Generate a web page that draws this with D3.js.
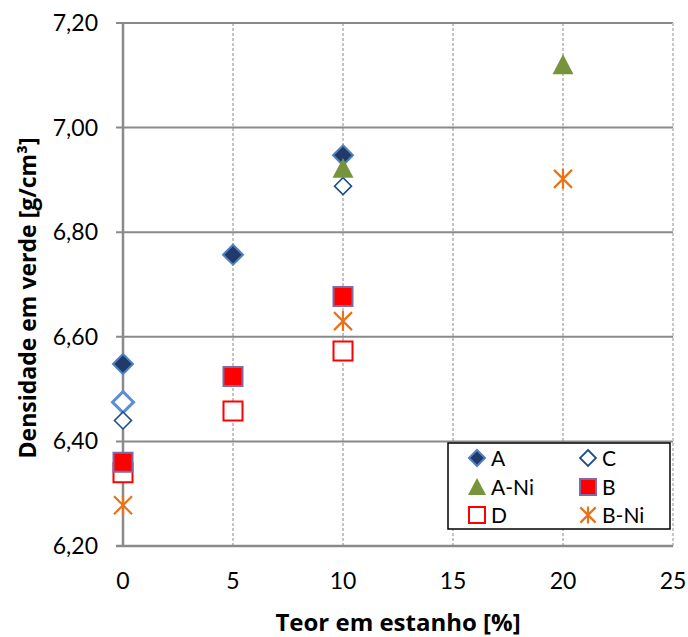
<!DOCTYPE html>
<html>
<head>
<meta charset="utf-8">
<script src="https://cdn.jsdelivr.net/npm/d3@7"></script>
<style>
  html, body { margin: 0; padding: 0; background: #fff; }
  svg { display: block; font-family: Lato, "Open Sans", sans-serif; }
</style>
</head>
<body>
<svg id="chart" width="688" height="637"></svg>
<script>
// Green density vs tin content, per alloy family
const xTicks = [0, 5, 10, 15, 20, 25];
const yTicks = [6.2, 6.4, 6.6, 6.8, 7.0, 7.2];

const seriesA     = [[0, 6.548], [5, 6.757], [10, 6.947]];
const seriesA0    = [[0, 6.475]];
const seriesC     = [[0, 6.440], [10, 6.888]];
const seriesANi   = [[10, 6.922], [20, 7.120]];
const seriesB     = [[0, 6.360], [5, 6.524], [10, 6.677]];
const seriesD     = [[0, 6.340], [5, 6.458], [10, 6.573]];
const seriesBNi   = [[0, 6.278], [10, 6.630], [20, 6.902]];

const legendNames = ["A", "C", "A-Ni", "B", "D", "B-Ni"];

const svg = d3.select("#chart");
const M = { left: 123, right: 673, top: 23, bottom: 546 };

const x = d3.scaleLinear().domain([0, 25]).range([M.left, M.right]);
const y = d3.scaleLinear().domain([6.2, 7.2]).range([M.bottom, M.top]);

const loc = d3.formatLocale({ decimal: ",", thousands: ".", grouping: [3], currency: ["", ""] });
const fmtY = loc.format(".2f");

// Marker shapes
const shapes = {
  diamond: h => `M0,${-h}L${h},0L0,${h}L${-h},0Z`,
  square: h => `M${-h},${-h}H${h}V${h}H${-h}Z`,
  triangle: h => `M0,${-h}L${h},${h * 0.9}L${-h},${h * 0.9}Z`,
  star: h => `M${-h * 0.9},${-h * 0.9}L${h * 0.9},${h * 0.9}M${-h * 0.9},${h * 0.9}L${h * 0.9},${-h * 0.9}M0,${-h}L0,${h}`
};

const styles = {
  A:    { shape: "diamond", size: 10,   fill: "#1f3a6b", stroke: "#4f81bd", sw: 2 },
  A0:   { shape: "diamond", size: 10.5, fill: "#ffffff", stroke: "#5b8fd3", sw: 3 },
  C:    { shape: "diamond", size: 8.5,  fill: "#ffffff", stroke: "#1f4e8c", sw: 1.6 },
  ANi:  { shape: "triangle", size: 10.5, fill: "#77933c", stroke: "none", sw: 0 },
  B:    { shape: "square", size: 9.5,   fill: "#ff0000", stroke: "#7f6aa6", sw: 2 },
  D:    { shape: "square", size: 9.5,   fill: "#ffffff", stroke: "#ff0000", sw: 2 },
  BNi:  { shape: "star", size: 10,      fill: "none", stroke: "#e8731a", sw: 2.2 }
};

// Horizontal gridlines (solid) + left tick stubs
svg.append("g")
  .selectAll("line")
  .data(yTicks)
  .join("line")
  .attr("x1", M.left - 7).attr("x2", M.right)
  .attr("y1", d => y(d)).attr("y2", d => y(d))
  .attr("stroke", "#8a8a8a").attr("stroke-width", 2);

// Vertical gridlines (dashed)
svg.append("g")
  .selectAll("line")
  .data(xTicks.filter(d => d > 0))
  .join("line")
  .attr("x1", d => x(d)).attr("x2", d => x(d))
  .attr("y1", M.top).attr("y2", M.bottom)
  .attr("stroke", d => d === 25 ? "#c8c8c8" : "#8a8a8a")
  .attr("stroke-width", d => d === 25 ? 2 : 1)
  .attr("stroke-dasharray", "3,2");

// Axes lines
svg.append("line")
  .attr("x1", x(0)).attr("x2", x(0))
  .attr("y1", M.top).attr("y2", M.bottom)
  .attr("stroke", "#8a8a8a").attr("stroke-width", 2.5);
svg.append("line")
  .attr("x1", M.left - 7).attr("x2", M.right)
  .attr("y1", y(6.2)).attr("y2", y(6.2))
  .attr("stroke", "#8a8a8a").attr("stroke-width", 2.5);

// Tick labels
svg.append("g")
  .selectAll("text")
  .data(yTicks)
  .join("text")
  .attr("x", 98).attr("y", d => y(d))
  .attr("dy", "0.35em")
  .attr("text-anchor", "end")
  .attr("font-size", 23)
  .attr("fill", "#000")
  .text(d => fmtY(d));

svg.append("g")
  .selectAll("text")
  .data(xTicks)
  .join("text")
  .attr("x", d => x(d)).attr("y", 589)
  .attr("text-anchor", "middle")
  .attr("font-size", 23)
  .attr("fill", "#000")
  .text(d => d);

// Axis titles
svg.append("text")
  .attr("x", 398).attr("y", 631)
  .attr("text-anchor", "middle")
  .attr("font-family", "'Open Sans', sans-serif")
  .attr("font-size", 24).attr("font-weight", "bold")
  .text("Teor em estanho [%]");

svg.append("text")
  .attr("transform", "translate(36,298) rotate(-90)")
  .attr("text-anchor", "middle")
  .attr("font-family", "'Open Sans', sans-serif")
  .attr("font-size", 23).attr("font-weight", "bold")
  .text("Densidade em verde [g/cm³]");

// Data markers
function drawSeries(data, key) {
  const s = styles[key];
  svg.append("g")
    .selectAll("path")
    .data(data)
    .join("path")
    .attr("transform", d => `translate(${x(d[0])},${y(d[1])})`)
    .attr("d", shapes[s.shape](s.size))
    .attr("fill", s.fill)
    .attr("stroke", s.stroke)
    .attr("stroke-width", s.sw);
}
drawSeries(seriesA0, "A0");
drawSeries(seriesC, "C");
drawSeries(seriesA, "A");
drawSeries(seriesANi, "ANi");
drawSeries(seriesD, "D");
drawSeries(seriesB, "B");
drawSeries(seriesBNi, "BNi");

// Legend
const legendKeys = ["A", "C", "ANi", "B", "D", "BNi"];
const lg = svg.append("g");
lg.append("rect")
  .attr("x", 448).attr("y", 443).attr("width", 222).attr("height", 86)
  .attr("fill", "#fff").attr("stroke", "#000").attr("stroke-width", 1.5);

const rowsY = [458, 487, 515];
const colsX = [477, 588];
legendKeys.forEach((k, i) => {
  const s = styles[k];
  const cx = colsX[i % 2], cy = rowsY[Math.floor(i / 2)];
  const size = k === "ANi" ? 9 : (k === "BNi" ? 8.5 : 8);
  lg.append("path")
    .attr("transform", `translate(${cx},${cy})`)
    .attr("d", shapes[s.shape](size))
    .attr("fill", s.fill)
    .attr("stroke", s.stroke)
    .attr("stroke-width", k === "C" ? 1.8 : s.sw);
  lg.append("text")
    .attr("x", cx + 14).attr("y", cy)
    .attr("dy", "0.36em")
    .attr("font-size", 21)
    .text(legendNames[i]);
});
</script>
</body>
</html>
